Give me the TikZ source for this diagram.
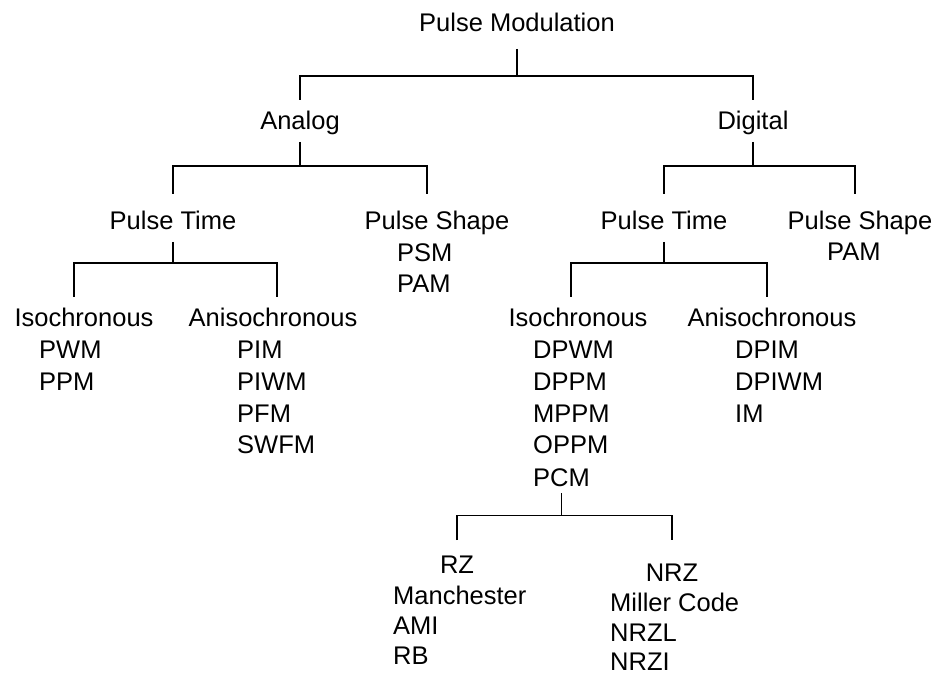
\documentclass[tikz,border=0pt]{standalone}
\usepackage{fontspec}
\setmainfont{Liberation Sans}
\begin{document}
\begin{tikzpicture}[x=1pt,y=-1pt,
	every node/.style={inner sep=0pt,font=\fontsize{25.5}{31.75}\selectfont},
	head/.style={anchor=base,text height=18pt,text depth=0pt,outer ysep=12pt},
	items/.style={anchor=north west,align=left},
	tree/.style={line width=1.8pt},
	drop/.style={shorten <=#1,shorten >=#1}]
	\useasboundingbox (0,0) rectangle (935,676);

	%top levels
	\node [head,outer ysep=17pt] (pm) at (517,32) {Pulse Modulation};
	\node [head] (an) at (300,130) {Analog};
	\node [head] (dg) at (753,130) {Digital};

	%analog side
	\node [head] (apt) at (173,230) {Pulse Time};
	\node [head] (aps) at (437,230) {Pulse Shape};
	\node [items] (apsL) at (397,243) {PSM\\PAM};
	\node [head] (aiso) at (84,327) {Isochronous};
	\node [items] (aisoL) at (39,341) {PWM\\PPM};
	\node [head] (aaniso) at (273,327) {Anisochronous};
	\node [items] (aanisoL) at (237,341) {PIM\\PIWM\\PFM\\SWFM};

	%digital side
	\node [head] (dpt) at (664,230) {Pulse Time};
	\node [head] (dps) at (860,230) {Pulse Shape};
	\node [items] (dpsL) at (827,243) {PAM};
	\node [head] (diso) at (578,327) {Isochronous};
	\node [items] (disoL) at (533,341) {DPWM\\DPPM\\MPPM\\OPPM};
	\node [items] (pcm) at (533,468) {PCM};
	\node [head] (daniso) at (772,327) {Anisochronous};
	\node [items] (danisoL) at (735,341) {DPIM\\DPIWM\\IM};

	%line codes
	\node [head] (rz) at (457,573) {RZ};
	\node [items,font=\fontsize{25.5}{30}\selectfont] (rzL) at (393,586) {Manchester\\AMI\\RB};
	\node [head] (nrz) at (672,581) {NRZ};
	\node [items,font=\fontsize{25.5}{29.5}\selectfont] (nrzL) at (610,593) {Miller Code\\NRZL\\NRZI};

	%branches
	\draw [tree] (pm.south) -- ++(0,27) coordinate (pmbus);
	\draw [tree] (an.north) |- (pmbus) -| (dg.north);

	\draw [tree] (an.south) -- ++(0,24) coordinate (anbus);
	\draw [tree,drop=6pt] (apt.north) |- (anbus) -| ([xshift=-10pt]aps.north);
	\draw [tree] (dg.south) -- ++(0,24) coordinate (dgbus);
	\draw [tree,drop=6pt] (dpt.north) |- (dgbus) -| ([xshift=-5pt]dps.north);

	\draw [tree] (apt.south) -- ++(0,21) coordinate (aptbus);
	\draw [tree] ([xshift=-10pt]aiso.north) |- (aptbus) -| ([xshift=4pt]aaniso.north);
	\draw [tree] (dpt.south) -- ++(0,21) coordinate (dptbus);
	\draw [tree] ([xshift=-7pt]diso.north) |- (dptbus) -| ([xshift=-5pt]daniso.north);

	\draw [tree,shorten <=7pt] (pcm.south) -- ++(0,29) coordinate (pcmbus);
	\draw [tree,shorten <=3pt,shorten >=11pt] (rz.north) |- (pcmbus) -| (nrz.north);
\end{tikzpicture}
\end{document}
